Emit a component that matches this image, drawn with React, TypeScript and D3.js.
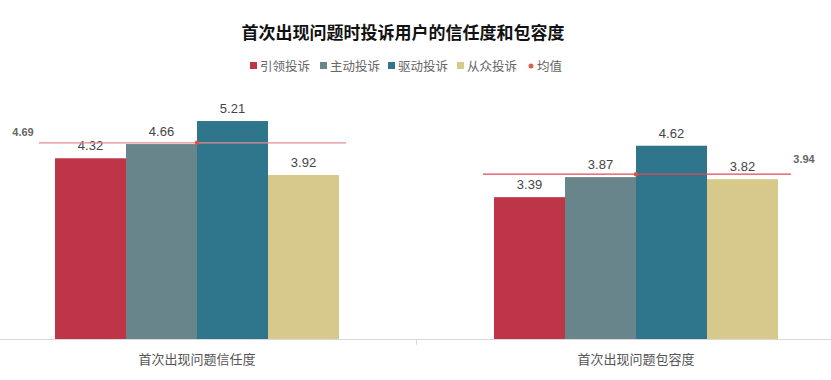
import React from "react";
import * as d3 from "d3";

const categories = ["首次出现问题信任度", "首次出现问题包容度"];
const seriesNames = ["引领投诉", "主动投诉", "驱动投诉", "从众投诉"];
const seriesColors = ["#BE3547", "#68858C", "#2F768D", "#D6C98B"];
const values = [
  [4.32, 4.66, 5.21, 3.92],
  [3.39, 3.87, 4.62, 3.82],
];
const means = [4.69, 3.94];
const meanName = "均值";
const title = "首次出现问题时投诉用户的信任度和包容度";

const W = 831;
const H = 380;
const FONT = "'Noto Sans CJK SC', 'Liberation Sans', sans-serif";

export default function App() {
  const x = d3.scaleBand<string>().domain(categories).range([-22.5, 855.5]).paddingInner(0).paddingOuter(0);
  const y = d3.scaleLinear().domain([0, 6]).range([339, 88]);
  const barW = 71;
  const groupW = barW * seriesNames.length;
  const inner = d3.scaleBand<string>().domain(seriesNames).range([0, groupW]);

  const legendX = [248, 318, 386, 455, 525];
  const legendItems = [...seriesNames, meanName];
  const lineExt = [
    [-158, 149],
    [-153, 155],
  ];

  return (
    <svg width={W} height={H} style={{ position: "absolute", left: 0, top: 0, background: "#fff" }} fontFamily={FONT}>
      <text x={403} y={39} textAnchor="middle" fontSize={17} fontWeight="bold" fill="#111">
        {title}
      </text>
      {legendItems.map((name, i) => (
        <g key={name} transform={`translate(${legendX[i]},66)`}>
          {i < 4 ? (
            <rect x={2} y={-4} width={7} height={7} fill={seriesColors[i]} />
          ) : (
            <circle cx={6} cy={0} r={2.5} fill="#D9604A" />
          )}
          <text x={12} y={4.5} fontSize={12.5} fill="#666">
            {name}
          </text>
        </g>
      ))}
      {categories.map((c, ci) => {
        const cx = (x(c) as number) + x.bandwidth() / 2;
        const gx = cx - groupW / 2;
        const my = y(means[ci]);
        return (
          <g key={c}>
            {values[ci].map((v, si) => (
              <g key={si}>
                <rect
                  x={gx + (inner(seriesNames[si]) as number)}
                  y={y(v)}
                  width={barW}
                  height={y(0) - y(v)}
                  fill={seriesColors[si]}
                />
                <text
                  x={gx + (inner(seriesNames[si]) as number) + barW / 2}
                  y={y(v) - 8}
                  textAnchor="middle"
                  fontSize={13}
                  fill="#444"
                  fontFamily="'Liberation Sans', Arial, sans-serif"
                >
                  {v.toFixed(2)}
                </text>
              </g>
            ))}
            <line
              x1={cx + lineExt[ci][0]}
              x2={cx + lineExt[ci][1]}
              y1={my}
              y2={my}
              stroke={ci === 0 ? "#E28C96" : "#DC4A58"}
              strokeWidth={1.3}
            />
            <circle cx={cx} cy={my} r={2.2} fill="#D9543F" />
            <text
              x={ci === 0 ? cx - 174 : cx + 168}
              y={ci === 0 ? my - 7 : my - 11}
              textAnchor="middle"
              fontSize={11}
              fontWeight="bold"
              fill="#666"
              fontFamily="'Liberation Sans', Arial, sans-serif"
            >
              {means[ci].toFixed(2)}
            </text>
            <text x={cx} y={364} textAnchor="middle" fontSize={13} fill="#555">
              {c}
            </text>
          </g>
        );
      })}
      <line x1={0} x2={W} y1={339.5} y2={339.5} stroke="#D9D9D9" strokeWidth={1} />
      <line x1={416.5} x2={416.5} y1={339.5} y2={345} stroke="#D9D9D9" strokeWidth={1} />
    </svg>
  );
}
